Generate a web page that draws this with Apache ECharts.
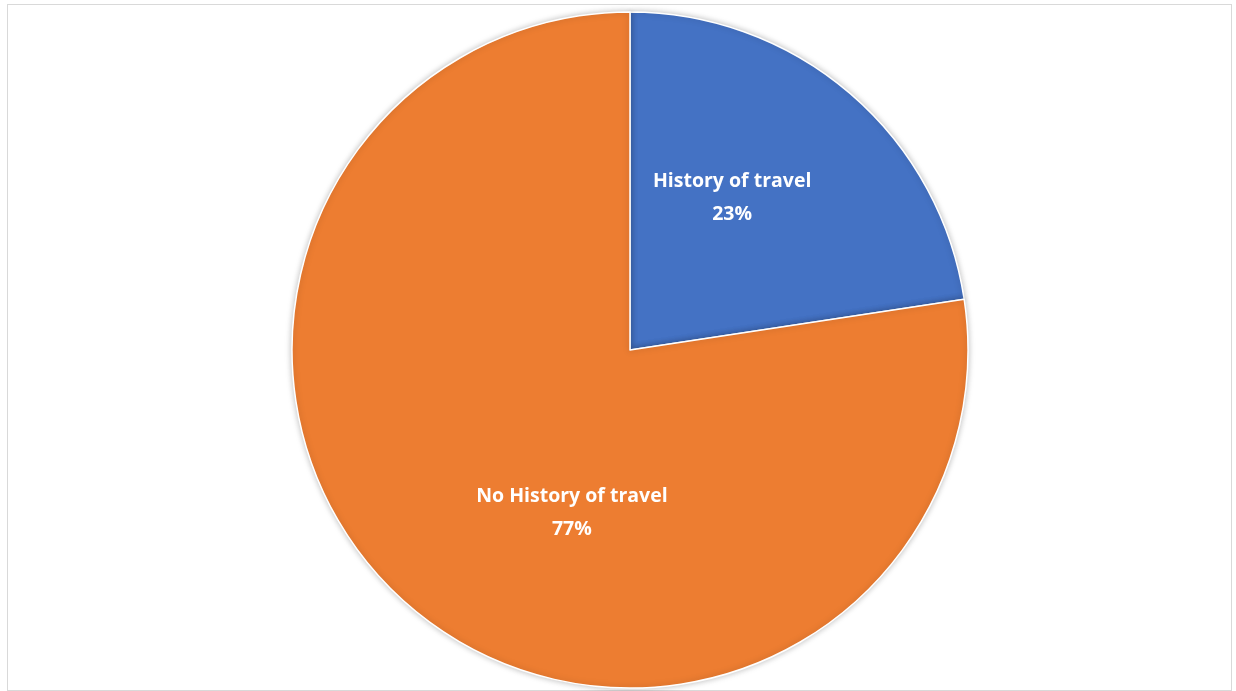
<!DOCTYPE html>
<html><head><meta charset="utf-8">
<script src="https://cdn.jsdelivr.net/npm/echarts@6/dist/echarts.min.js"></script>
<style>html,body{margin:0;padding:0;background:#fff}
#frame{position:absolute;left:7px;top:4px;width:1225px;height:687px;border:1px solid #d9d9d9;box-sizing:border-box}
#c{position:absolute;left:0;top:0;width:1236px;height:691px}</style>
</head><body><div id="frame"></div><div id="c"></div>
<script>
const categories = ["History of travel", "No History of travel"];
const values = [22.6, 77.4];
const colors = ["#4472C4", "#ED7D31"];
const offsets = [[-10, -22], [54, 32]];
const chart = echarts.init(document.getElementById('c'));
chart.setOption({
  series: [{
    type: 'pie',
    center: [630, 350],
    radius: [0, 338],
    startAngle: 90,
    clockwise: true,
    label: {
      show: true, position: 'inside', color: '#fff', fontWeight: 'bold',
      fontFamily: 'Open Sans, sans-serif', fontSize: 19.5, lineHeight: 33,
      formatter: p => p.name + '\n' + Math.round(p.value) + '%'
    },
    labelLine: {show: false},
    itemStyle: {borderColor: '#fff', borderWidth: 1.5, shadowBlur: 6, shadowColor: 'rgba(0,0,0,0.25)'},
    emphasis: {disabled: true},
    data: categories.map((n, i) => ({
      name: n, value: values[i], itemStyle: {color: colors[i]},
      label: {offset: offsets[i]}
    }))
  }]
});
</script></body></html>
